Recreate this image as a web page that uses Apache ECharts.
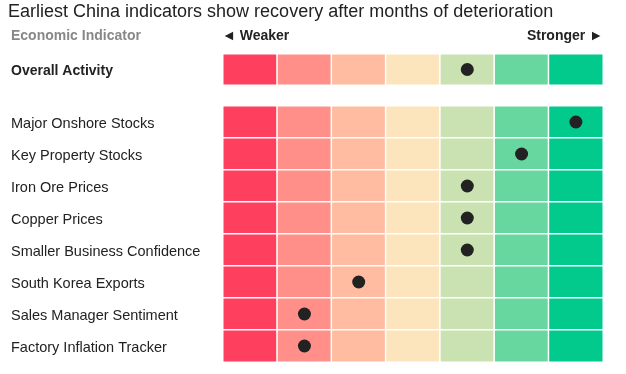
<!DOCTYPE html>
<html><head><meta charset="utf-8">
<script src="https://cdn.jsdelivr.net/npm/echarts@6/dist/echarts.min.js"></script>
<style>html,body{margin:0;padding:0;background:#fff}#c{width:626px;height:374px}</style>
</head><body><div id="c"></div>
<script>
const columns = ['1','2','3','4','5','6','7'];
const overallLabels = ['Overall Activity'];
const overallValues = [5];
const indicators = ['Major Onshore Stocks','Key Property Stocks','Iron Ore Prices','Copper Prices','Smaller Business Confidence','South Korea Exports','Sales Manager Sentiment','Factory Inflation Tracker'];
const indicatorValues = [7,6,5,5,5,3,2,2];
const palette = ['#ff3f5e','#ff8f88','#ffbca1','#fce5bd','#cae1b2','#67d69f','#02c98c'];

const FONT = '"Liberation Sans", Arial, sans-serif';
function cells(labels){
  const out=[];
  labels.forEach((l,yi)=>columns.forEach((c,xi)=>out.push([xi,yi,xi])));
  return out;
}
const chart = echarts.init(document.getElementById('c'), null, {renderer:'canvas'});
const xAx = gi => ({type:'category', gridIndex:gi, data:columns, show:false, boundaryGap:true});
chart.setOption({
  animation:false,
  textStyle:{fontFamily:FONT},
  graphic:[
    {type:'text', left:8, top:3, style:{text:'Earliest China indicators show recovery after months of deterioration', font:'18px '+FONT, fill:'#222'}},
    {type:'text', left:11, top:29, style:{text:'Economic Indicator', font:'bold 14px '+FONT, fill:'#888'}},
    {type:'text', left:222, top:29, style:{text:'◄ Weaker', font:'bold 14px '+FONT, fill:'#222'}},
    {type:'text', right:23, top:29, style:{text:'Stronger ►', font:'bold 14px '+FONT, fill:'#222'}}
  ],
  visualMap:{type:'piecewise', show:false, dimension:2, seriesIndex:[0,1],
    pieces: palette.map((c,i)=>({value:i, color:c}))},
  grid:[
    {left:223, right:23, top:54, height:31},
    {left:223, right:23, top:106, height:256}
  ],
  xAxis:[xAx(0), xAx(1)],
  yAxis:[
    {type:'category', gridIndex:0, data:overallLabels, inverse:true, axisLine:{show:false}, axisTick:{show:false},
     axisLabel:{align:'left', margin:212, formatter:v=>'{a|'+v+'}',
       rich:{a:{fontSize:14, fontWeight:'bold', color:'#222', fontFamily:FONT, padding:[4,0,0,0]}}}},
    {type:'category', gridIndex:1, data:indicators, inverse:true, axisLine:{show:false}, axisTick:{show:false},
     axisLabel:{align:'left', margin:212, formatter:v=>'{a|'+v+'}',
       rich:{a:{fontSize:14.5, color:'#222', fontFamily:FONT, padding:[4,0,0,0]}}}}
  ],
  series:[
    {type:'heatmap', xAxisIndex:0, yAxisIndex:0, data:cells(overallLabels), itemStyle:{borderColor:'#fff', borderWidth:1.5}},
    {type:'heatmap', xAxisIndex:1, yAxisIndex:1, data:cells(indicators), itemStyle:{borderColor:'#fff', borderWidth:1.5}},
    {type:'scatter', xAxisIndex:0, yAxisIndex:0, symbolSize:13, itemStyle:{color:'#222', opacity:1}, z:5,
     data:overallValues.map((v,i)=>[v-1,i])},
    {type:'scatter', xAxisIndex:1, yAxisIndex:1, symbolSize:13, itemStyle:{color:'#222', opacity:1}, z:5,
     data:indicatorValues.map((v,i)=>[v-1,i])}
  ]
});
</script></body></html>
